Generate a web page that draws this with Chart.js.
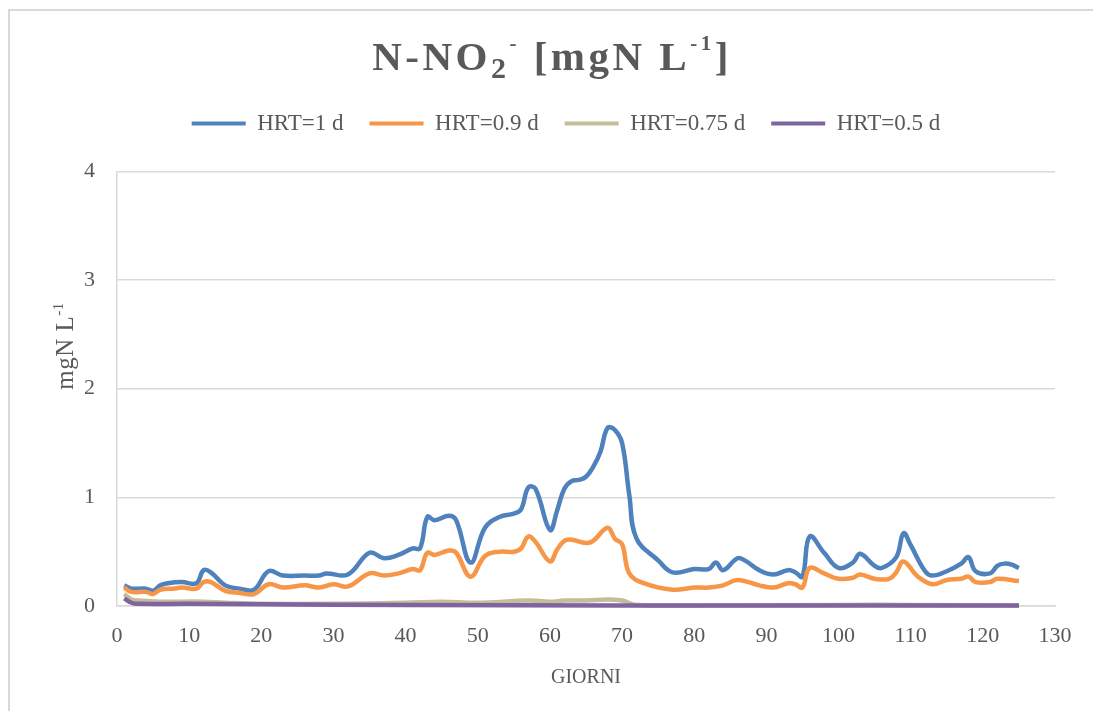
<!DOCTYPE html>
<html>
<head>
<meta charset="utf-8">
<script src="https://cdn.jsdelivr.net/npm/chart.js@4"></script>
<style>
    html, body { margin: 0; padding: 0; background: #fff; }
    #wrap { width: 1093px; height: 711px; position: relative; }
</style>
</head>
<body>
<div id="wrap"><canvas id="no2-chart"></canvas></div>
<script>
// HRT=1 d
const daysHrt1 = [1, 2, 4, 5, 6, 7, 9, 11, 12, 13, 15, 17, 19, 21, 23, 26, 28, 29, 32, 35, 37, 39, 41, 42, 43, 44, 46, 47, 49, 51, 53, 55, 56, 57, 58, 60, 61, 62, 63, 64, 65, 66, 67, 68, 69, 70, 71, 72, 75, 77, 80, 82, 83, 84, 86, 87, 89, 91, 93, 94, 95, 96, 98, 100, 102, 103, 105, 106, 108, 109, 110, 112, 113, 115, 117, 118, 119, 121, 122, 123, 124, 125];
const valHrt1 = [0.19, 0.16, 0.16, 0.14, 0.19, 0.21, 0.22, 0.21, 0.33, 0.31, 0.19, 0.16, 0.15, 0.32, 0.28, 0.28, 0.28, 0.30, 0.29, 0.49, 0.44, 0.47, 0.53, 0.53, 0.82, 0.79, 0.83, 0.79, 0.40, 0.72, 0.82, 0.85, 0.89, 1.09, 1.08, 0.70, 0.88, 1.08, 1.15, 1.16, 1.19, 1.28, 1.42, 1.64, 1.62, 1.50, 1.02, 0.62, 0.42, 0.31, 0.34, 0.34, 0.40, 0.33, 0.44, 0.42, 0.33, 0.29, 0.33, 0.31, 0.27, 0.64, 0.49, 0.35, 0.40, 0.48, 0.37, 0.35, 0.45, 0.67, 0.56, 0.32, 0.28, 0.32, 0.39, 0.45, 0.32, 0.30, 0.37, 0.39, 0.38, 0.35];

// HRT=0.9 d
const daysHrt09 = [1, 2, 4, 5, 6, 8, 9, 11, 12, 13, 15, 17, 19, 21, 23, 26, 28, 30, 32, 35, 37, 39, 41, 42, 43, 44, 46, 47, 49, 51, 53, 55, 56, 57, 58, 60, 61, 62, 63, 65, 66, 68, 69, 70, 71, 73, 77, 80, 82, 84, 86, 89, 91, 93, 94, 95, 96, 98, 100, 102, 103, 105, 107, 108, 109, 111, 113, 115, 117, 118, 119, 121, 122, 125];
const valHrt09 = [0.17, 0.13, 0.13, 0.11, 0.15, 0.16, 0.17, 0.16, 0.22, 0.22, 0.14, 0.12, 0.11, 0.20, 0.17, 0.19, 0.17, 0.20, 0.18, 0.30, 0.28, 0.30, 0.34, 0.33, 0.49, 0.47, 0.51, 0.49, 0.27, 0.46, 0.50, 0.50, 0.53, 0.64, 0.59, 0.41, 0.52, 0.60, 0.61, 0.58, 0.60, 0.72, 0.62, 0.57, 0.30, 0.21, 0.15, 0.17, 0.17, 0.19, 0.24, 0.19, 0.17, 0.21, 0.20, 0.17, 0.35, 0.30, 0.25, 0.26, 0.29, 0.25, 0.25, 0.31, 0.41, 0.27, 0.20, 0.24, 0.25, 0.27, 0.22, 0.22, 0.25, 0.23];

// HRT=0.75 d
const daysHrt075 = [1, 2, 3, 6, 12, 15, 20, 30, 40, 45, 50, 57, 60, 62, 65, 68, 70, 72, 80, 100, 110, 125];
const valHrt075 = [0.11, 0.06, 0.05, 0.04, 0.04, 0.03, 0.02, 0.02, 0.03, 0.04, 0.03, 0.05, 0.04, 0.05, 0.05, 0.06, 0.05, 0.01, 0.005, 0.01, 0.01, 0.005];

// HRT=0.5 d
const daysHrt05 = [1, 2, 3, 10, 20, 40, 70, 125];
const valHrt05 = [0.07, 0.03, 0.02, 0.02, 0.015, 0.01, 0.005, 0.005];

const seriesLabels = ["HRT=1 d", "HRT=0.9 d", "HRT=0.75 d", "HRT=0.5 d"];
const seriesColors = ["#4F81BD", "#F79646", "#C4BD97", "#8064A2"];

const xTicks = { min: 0, max: 130, step: 10 };
const yTicks = { min: 0, max: 4, step: 1 };

const textColor = "#595959";
const serif = "'Liberation Serif', 'Times New Roman', serif";

function toPoints(days, values) {
    return days.map((d, i) => ({ x: d, y: values[i] }));
}

// draw a line of text made of normal / sub / sup pieces
// part = [text, scale, shift]
function drawRich(ctx, parts, size, weight, cx, baseY, rotate, spacing) {
    ctx.save();
    ctx.letterSpacing = spacing + "px";
    let total = 0;
    parts.forEach(p => {
        ctx.font = `${weight} ${Math.round(size * (p[1] || 1))}px ${serif}`;
        p.w = ctx.measureText(p[0]).width;
        total += p.w;
    });
    ctx.translate(cx, baseY);
    if (rotate) ctx.rotate(-Math.PI / 2);
    ctx.fillStyle = textColor;
    ctx.textBaseline = "alphabetic";
    ctx.textAlign = "left";
    let x = -total / 2;
    parts.forEach(p => {
        ctx.font = `${weight} ${Math.round(size * (p[1] || 1))}px ${serif}`;
        ctx.fillText(p[0], x, (p[2] || 0) * size);
        x += p.w;
    });
    ctx.restore();
}

const richText = {
    id: "richText",
    afterDraw(chart) {
        const ctx = chart.ctx;

        // frame of the chart
        ctx.save();
        ctx.strokeStyle = "#d9d9d9";
        ctx.lineWidth = 2;
        ctx.beginPath();
        ctx.moveTo(9, 711);
        ctx.lineTo(9, 10);
        ctx.lineTo(1093, 10);
        ctx.stroke();
        ctx.restore();

        // Title
        drawRich(ctx, [
            ["N-NO"], ["2", 0.72, 0.2], ["-", 0.5, -0.5],
            [" [mgN L"], ["-1", 0.5, -0.5], ["]"]
        ], 41, "bold", 552, 70, false, 3.5);

        // Y axis title
        drawRich(ctx, [["mgN L"], ["-1", 0.6, -0.4]], 25, "normal", 73, 346, true, 0.5);
    }
};

const ctx = document.getElementById("no2-chart").getContext("2d");

new Chart(ctx, {
    type: "line",
    data: {
        datasets: [
            [daysHrt1, valHrt1],
            [daysHrt09, valHrt09],
            [daysHrt075, valHrt075],
            [daysHrt05, valHrt05]
        ].map((s, i) => ({
            label: seriesLabels[i],
            data: toPoints(s[0], s[1]),
            borderColor: seriesColors[i],
            backgroundColor: seriesColors[i],
            borderWidth: 4.5,
            pointRadius: 0,
            tension: 0.4,
            fill: false,
            clip: 8,
            // later series drawn on top, like the original
            order: seriesLabels.length - i
        }))
    },
    options: {
        responsive: true,
        maintainAspectRatio: false,
        animation: false,
        layout: {
            padding: { top: 86, left: 77, right: 38, bottom: 12 }
        },
        scales: {
            x: {
                type: "linear",
                min: xTicks.min,
                max: xTicks.max,
                ticks: {
                    stepSize: xTicks.step,
                    padding: 17,
                    color: textColor,
                    font: { family: serif, size: 22 }
                },
                grid: { display: false, drawTicks: false },
                border: { display: true, color: "#d9d9d9", width: 1.5 },
                title: {
                    display: true,
                    text: "GIORNI",
                    color: textColor,
                    font: { family: serif, size: 20 },
                    padding: { top: 4, bottom: 9 }
                },
                afterFit: (scale) => { scale.height = 93; }
            },
            y: {
                min: yTicks.min,
                max: yTicks.max,
                ticks: {
                    stepSize: yTicks.step,
                    padding: 22,
                    color: textColor,
                    font: { family: serif, size: 22 }
                },
                grid: { color: "#d9d9d9", lineWidth: 1.5, drawTicks: false },
                border: { display: true, color: "#d9d9d9", width: 1.5 },
                afterFit: (scale) => { scale.width = 40; }
            }
        },
        plugins: {
            legend: {
                position: "top",
                labels: {
                    boxWidth: 54,
                    boxHeight: 4,
                    padding: 26,
                    color: textColor,
                    font: { family: serif, size: 23 },
                    sort: (a, b) => a.datasetIndex - b.datasetIndex,
                    generateLabels: (chart) => {
                        const items = Chart.defaults.plugins.legend.labels.generateLabels(chart);
                        items.forEach(item => { item.lineWidth = 0; });
                        return items;
                    }
                }
            },
            // empty spacer between legend and plot
            subtitle: {
                display: true,
                text: " ",
                weight: 500,
                font: { size: 2 },
                padding: { top: 12, bottom: 12 }
            },
            tooltip: { enabled: false }
        }
    },
    plugins: [richText]
});
</script>
</body>
</html>
